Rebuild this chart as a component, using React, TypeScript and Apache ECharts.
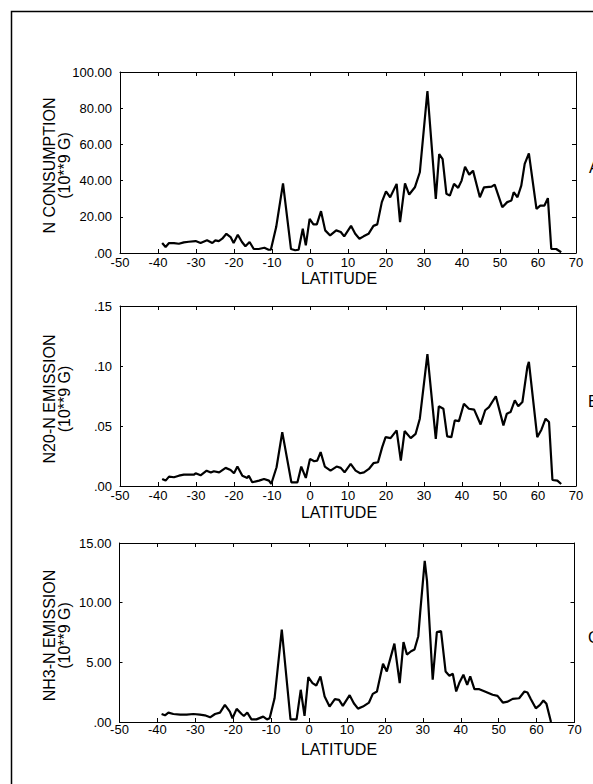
import React, { useEffect, useRef } from "react";
import * as echarts from "echarts";

// Panel A: N consumption (10**9 G)
const latA = [-38.9,-38,-37.1,-35.8,-34.5,-33.2,-31.9,-30.1,-28.8,-27.1,-25.7,-24.9,-24,-23.1,-22,-20.9,-20.1,-19,-17.9,-17,-15.9,-14.8,-13.5,-12,-10.9,-10.3,-8.9,-7.1,-5,-3.9,-3,-1.9,-1.1,-0.1,0.9,1.8,2.9,4,5.3,6.9,8.1,9,10.8,11.9,13,14.1,15.4,16.7,17.7,18.9,20,21.1,22.8,23.7,25,26.1,27.6,28.9,30.9,33.1,34,34.9,35.9,36.8,37.9,39,39.9,40.8,41.9,42.9,44.7,45.8,47.8,48.6,50.6,51.9,53,53.6,54.6,55.6,56.5,57.6,59.6,60.6,61.7,62.6,63.5,64.8,66.1];
const valA = [5.5,3.3,5.5,5.5,5.1,5.9,6.2,6.6,5.5,7.0,5.5,7.0,6.6,7.9,10.6,8.8,5.5,10.1,6.1,3.7,6.1,2.2,2.2,2.9,1.8,1.8,14.3,38.5,2.2,1.5,1.8,13.4,4.2,18.9,15.8,15.8,23.1,12.5,9.7,12.5,11.6,9.2,15,10.6,7.9,9.2,10.6,15,15.8,28.1,34.1,30.8,38.2,17.1,38.5,32.3,36.3,44.6,89.5,29.9,54.7,51.9,32.7,31.7,38.2,36,40,47.7,43.3,45.5,30.8,36.3,36.7,37.8,25.3,28.1,29,33.6,30.8,37.2,49.2,55,24.4,26.2,26.2,30.3,2.2,2.2,0.4];

// Panel B: N2O-N emission (10**9 G)
const latB = [-38.9,-38,-37.1,-35.8,-34.5,-33.2,-31.8,-30.5,-30.1,-28.8,-27.2,-26.1,-25.3,-23.9,-22.2,-20.9,-20,-19.1,-17.8,-16.5,-16.1,-15.2,-13.4,-12.1,-10.8,-10.2,-8.8,-7.3,-4.9,-3.3,-2.3,-1.1,0,1.1,1.9,2.8,3.9,5.4,7,8.1,9.1,10.7,12,13.2,14.2,15.5,16.7,17.9,19,19.9,21.2,22.8,23.9,24.9,26.5,27.8,28.9,30.9,33.1,33.9,35.1,36.1,37.2,38.1,39.2,40.5,41.8,43.2,44.9,46.1,47.1,48.9,50.9,51.8,52.8,53.9,54.8,55.9,57.2,57.6,59.8,60.9,62,62.9,63.8,65.1,66.1];
const valB = [0.0059,0.0045,0.0078,0.0073,0.0086,0.0095,0.0095,0.0095,0.0106,0.0089,0.0128,0.0112,0.0123,0.0114,0.0151,0.0134,0.0106,0.0162,0.0086,0.0067,0.0086,0.0031,0.0045,0.0059,0.0045,0.0017,0.0156,0.0449,0.0031,0.0031,0.0162,0.0067,0.0226,0.0206,0.0212,0.0282,0.0162,0.0128,0.0162,0.0151,0.0114,0.0184,0.0128,0.0106,0.0114,0.0142,0.019,0.0198,0.0324,0.0407,0.0399,0.0463,0.0212,0.0458,0.0399,0.0435,0.0561,0.1099,0.0393,0.0664,0.0644,0.0413,0.0407,0.0547,0.0541,0.0686,0.0644,0.0636,0.0513,0.0631,0.0658,0.0748,0.0505,0.0603,0.0617,0.0714,0.0664,0.07,0.0993,0.1035,0.0407,0.0469,0.0561,0.0533,0.005,0.0045,0.0017];

// Panel C: NH3-N emission (10**9 G)
const latC = [-38.9,-38,-37.1,-35.8,-34,-32.3,-30.5,-28.8,-27.5,-26.1,-24.8,-23.5,-22.2,-20.9,-20.2,-19.1,-17.8,-17.2,-16.3,-15.2,-13.9,-12.1,-11.1,-10.4,-9.1,-7.2,-4.9,-3.3,-2.2,-1.2,-0.2,0.9,1.9,3,4.1,5.4,6.8,7.9,8.9,10.7,11.8,12.9,14.2,15.8,16.8,17.9,19.5,20.5,22.5,23.9,24.9,25.8,26.9,27.8,28.8,29.3,30.5,31.1,32.6,33.7,34.8,36,37,37.9,38.8,39.6,40.7,41.7,42.5,43.6,44.9,46.2,48.4,49.7,51.1,52.4,53.7,55.4,56.8,57.6,58.5,59.8,60.9,61.8,62.6,63.8];
const valC = [0.67,0.56,0.79,0.67,0.62,0.62,0.67,0.62,0.56,0.39,0.67,0.79,1.43,0.87,0.31,1.1,0.67,0.51,0.79,0.22,0.22,0.45,0.22,0.31,1.99,7.75,0.22,0.22,2.7,0.51,3.76,3.26,3.06,3.82,2.13,1.29,1.91,1.85,1.35,2.25,1.57,1.12,1.29,1.63,2.36,2.56,4.89,4.24,6.57,3.26,6.69,5.65,5.93,6.07,7.19,9.16,13.51,11.83,3.54,7.53,7.61,4.24,3.88,4.04,2.56,3.26,3.96,3.12,3.82,2.75,2.75,2.58,2.28,2.19,1.63,1.71,1.94,1.99,2.56,2.47,1.91,1.15,1.43,1.8,1.52,0];

const titles = ["N CONSUMPTION", "N20-N EMISSION", "NH3-N EMISSION"];
const unitTitle = "(10**9 G)";
const xTitle = "LATITUDE";
const panelLetters = ["A", "B", "C"];
const yMax = [100, 0.15, 15];
const yStep = [20, 0.05, 5];

const FONT = "'Liberation Sans', Arial, Helvetica, sans-serif";

const fmtY = (v: number) => {
  const s = v.toFixed(2);
  return s.startsWith("0.") ? s.slice(1) : s;
};

export default function App() {
  const ref = useRef<HTMLDivElement>(null);
  useEffect(() => {
    if (!ref.current) return;
    const chart = echarts.init(ref.current, undefined, { renderer: "svg" });
    const grids = [
      { left: 120, top: 72, width: 456, height: 181 },
      { left: 120, top: 306, width: 456, height: 180 },
      { left: 119.5, top: 543, width: 455, height: 179 },
    ];
    const labelMargin = [3, 3, 1];
    const titleGap = [25, 26, 27];
    const letterX = [589, 588, 588];
    const lats = [latA, latB, latC];
    const vals = [valA, valB, valC];
    const axisLine = { show: true, onZero: false, lineStyle: { color: "#000", width: 1 } };
    const xAxis: any[] = [];
    const yAxis: any[] = [];
    const series: any[] = [];
    const graphic: any[] = [
      {
        type: "rect",
        shape: { x: 11.5, y: 11.5, width: 700, height: 900 },
        style: { fill: "none", stroke: "#000", lineWidth: 1.5 },
        silent: true,
      },
    ];
    grids.forEach((g, i) => {
      xAxis.push({
        type: "value", gridIndex: i, min: -50, max: 70, interval: 10, position: "bottom",
        axisLine, axisTick: { show: true, inside: true, length: 4, lineStyle: { color: "#000" } },
        axisLabel: { color: "#000", fontSize: 13, lineHeight: 13, fontFamily: FONT, margin: labelMargin[i] },
        splitLine: { show: false },
      });
      xAxis.push({
        type: "value", gridIndex: i, min: -50, max: 70, interval: 10, position: "top",
        axisLine, axisTick: { show: true, inside: true, length: 4, lineStyle: { color: "#000" } },
        axisLabel: { show: false }, splitLine: { show: false },
      });
      yAxis.push({
        type: "value", gridIndex: i, min: 0, max: yMax[i], interval: yStep[i], position: "left",
        axisLine, axisTick: { show: true, inside: true, length: 3, lineStyle: { color: "#000" } },
        axisLabel: { color: "#000", fontSize: 13, fontFamily: FONT, margin: 8, formatter: fmtY },
        splitLine: { show: false },
      });
      yAxis.push({
        type: "value", gridIndex: i, min: 0, max: yMax[i], interval: yStep[i], position: "right",
        axisLine, axisTick: { show: true, inside: true, length: 4, lineStyle: { color: "#000" } },
        axisLabel: { show: false }, splitLine: { show: false },
      });
      series.push({
        type: "line", xAxisIndex: i * 2, yAxisIndex: i * 2,
        data: lats[i].map((x, k) => [x, vals[i][k]]),
        showSymbol: false, symbol: "none",
        lineStyle: { color: "#000", width: 2.2 },
        silent: true,
      });
      const cy = g.top + g.height / 2 + 3;
      graphic.push({
        type: "text", x: 49, y: cy, rotation: Math.PI / 2,
        style: { text: titles[i], fill: "#000", font: `16px ${FONT}`, align: "center", verticalAlign: "middle" },
      });
      graphic.push({
        type: "text", x: 64, y: cy, rotation: Math.PI / 2,
        style: { text: unitTitle, fill: "#000", font: `16px ${FONT}`, align: "center", verticalAlign: "middle" },
      });
      graphic.push({
        type: "text", x: 339, y: g.top + g.height + titleGap[i],
        style: { text: xTitle, fill: "#000", font: `16px ${FONT}`, lineHeight: 16, align: "center", verticalAlign: "middle" },
      });
      graphic.push({
        type: "text", x: letterX[i], y: g.top + g.height / 2 + 5,
        style: { text: panelLetters[i], fill: "#000", font: `16px ${FONT}`, align: "left", verticalAlign: "middle" },
      });
    });
    chart.setOption({
      animation: false,
      backgroundColor: "#fff",
      grid: grids.map((g) => ({ ...g, containLabel: false })),
      xAxis,
      yAxis,
      series,
      graphic,
    });
    return () => chart.dispose();
  }, []);
  return (
    <div
      ref={ref}
      style={{ position: "absolute", left: 0, top: 0, width: 593, height: 784, background: "#fff" }}
    />
  );
}
